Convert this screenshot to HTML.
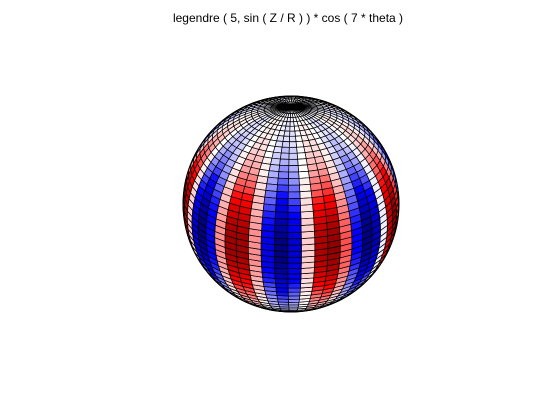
<!DOCTYPE html>
<html><head><meta charset="utf-8"><style>
html,body{margin:0;padding:0;background:#fff;}
#wrap{position:relative;width:560px;height:420px;overflow:hidden;background:#fff;}
#title{position:absolute;left:0;width:576px;top:11px;text-align:center;font:12px "Liberation Sans",sans-serif;color:#000;white-space:pre;}
</style></head><body>
<div id="wrap">
<div id="title">legendre ( 5, sin ( Z / R ) ) * cos ( 7 * theta )</div>
<svg id="plot" width="560" height="420" style="position:absolute;left:0;top:0"></svg>
</div>
<script>
const legendreDegree = [5];
const harmonicFreq = [7];
const latCount = [50];
const lonCount = [50];
const colorStops = [[0.5,0,0],[1,0,0],[1,1,1],[0,0,1],[0,0,0.5]].reverse();

const svg = document.getElementById('plot');
const NS = 'http://www.w3.org/2000/svg';
const cx = 291, cy = 204, R = 108;
const el = 26*Math.PI/180, t0 = Math.PI/7 + 0.083;
const d = [Math.cos(el)*Math.cos(t0), Math.cos(el)*Math.sin(t0), Math.sin(el)];
const rt = [-Math.sin(t0), Math.cos(t0), 0];
const up = [-Math.sin(el)*Math.cos(t0), -Math.sin(el)*Math.sin(t0), Math.cos(el)];
function pt(phi, th){
  const p=[Math.cos(phi)*Math.cos(th), Math.cos(phi)*Math.sin(th), Math.sin(phi)];
  return {x: cx + R*(p[0]*rt[0]+p[1]*rt[1]+p[2]*rt[2]),
          y: cy - R*(p[0]*up[0]+p[1]*up[1]+p[2]*up[2]),
          z: p[0]*d[0]+p[1]*d[1]+p[2]*d[2]};
}
function val(phi, th){
  const s = Math.sin(Math.sin(phi));
  const n = legendreDegree[0];
  return Math.pow(1-s*s, n*0.6) * Math.cos(harmonicFreq[0]*th);
}
function color(v){
  let t = (v+1)/2*(colorStops.length-1);
  t = Math.max(0, Math.min(colorStops.length-1.0001, t));
  t = Math.floor(t*16)/16;
  const i = Math.floor(t), f = t-i;
  const a = colorStops[i], b = colorStops[i+1];
  const c = a.map((x,k)=>Math.round(255*(x+(b[k]-x)*f)));
  return 'rgb('+c.join(',')+')';
}
const cells = [];
const NL = latCount[0], NO = lonCount[0];
for (let i=0;i<NL;i++){
  const p1 = -Math.PI/2 + Math.PI*i/NL, p2 = -Math.PI/2 + Math.PI*(i+1)/NL;
  for (let j=0;j<NO;j++){
    const a1 = 2*Math.PI*j/NO, a2 = 2*Math.PI*(j+1)/NO;
    const c = pt((p1+p2)/2,(a1+a2)/2);
    if (c.z < -0.05) continue;
    cells.push({z:c.z, pts:[pt(p1,a1),pt(p1,a2),pt(p2,a2),pt(p2,a1)], v:val((p1+p2)/2,(a1+a2)/2)});
  }
}
cells.sort((a,b)=>a.z-b.z);
const g = document.createElementNS(NS,'g');


svg.appendChild(g);
for (const c of cells){
  const poly = document.createElementNS(NS,'polygon');
  
  
  poly.setAttribute('points', c.pts.map(p=>p.x.toFixed(2)+','+p.y.toFixed(2)).join(' '));
  poly.setAttribute('fill', color(c.v));
  poly.setAttribute('stroke', '#000');
  poly.setAttribute('stroke-width', '0.7');
  g.appendChild(poly);
}
const outline = document.createElementNS(NS,'circle');


outline.setAttribute('cx',cx);outline.setAttribute('cy',cy);outline.setAttribute('r',R);
outline.setAttribute('fill','none');outline.setAttribute('stroke','#000');outline.setAttribute('stroke-width','1');
svg.appendChild(outline);
</script>
</body></html>
